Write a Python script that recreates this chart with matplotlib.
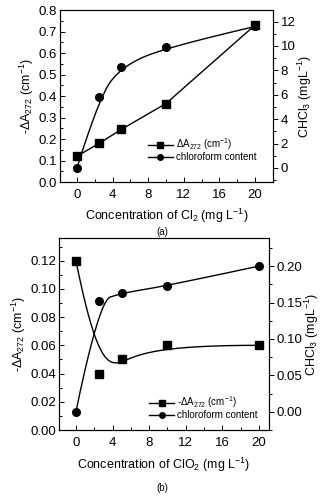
import numpy as np
import matplotlib
matplotlib.use("Agg")
import matplotlib.pyplot as plt
from matplotlib.ticker import MultipleLocator, FormatStrFormatter

plt.rcParams['font.family'] = ['Liberation Sans', 'DejaVu Sans']
plt.rcParams['mathtext.fontset'] = 'custom'
plt.rcParams['mathtext.rm'] = 'Liberation Sans'
plt.rcParams['mathtext.it'] = 'Liberation Sans'

# ---- data (a) ----
conc_a = [0, 2.5, 5, 10, 20]
dA_a = [0.12, 0.18, 0.245, 0.365, 0.73]
chcl3_a = [0.0, 5.8, 8.3, 9.9, 11.6]
# ---- data (b) ----
conc_b = [0, 2.5, 5, 10, 20]
dA_b = [0.12, 0.04, 0.05, 0.06, 0.06]
chcl3_b = [0.0, 0.152, 0.163, 0.173, 0.200]


def bspline(xs, ys, n=300, k=2):
    """Clamped B-spline using data points as control points (Origin style)."""
    P = np.column_stack([xs, ys]).astype(float)
    m = len(P)
    k = min(k, m - 1)
    inner = np.linspace(0, 1, m - k + 1)
    t = np.concatenate([np.zeros(k), inner, np.ones(k)])
    u = np.linspace(0, 1, n)
    out = []
    for uu in u:
        if uu >= 1:
            out.append(P[-1]); continue
        j = np.searchsorted(t, uu, side='right') - 1
        d = [P[j - k + i].copy() for i in range(k + 1)]
        for r in range(1, k + 1):
            for i in range(k, r - 1, -1):
                a = (uu - t[j - k + i]) / (t[j + 1 + i - r] - t[j - k + i])
                d[i] = (1 - a) * d[i - 1] + a * d[i]
        out.append(d[k])
    out = np.array(out)
    return out[:, 0], out[:, 1]


fig = plt.figure(figsize=(3.25, 4.98), dpi=100)
FS_T = 9.5
FS_L = 9

def style(ax, ax2):
    for a in (ax, ax2):
        for s in a.spines.values():
            s.set_linewidth(0.8)
    ax.tick_params(axis='both', which='both', direction='in', labelsize=FS_T, width=0.7)
    ax.tick_params(which='major', length=3.5)
    ax.tick_params(which='minor', length=2)
    ax.tick_params(axis='x', pad=5)
    ax.tick_params(axis='y', pad=2)
    ax2.tick_params(axis='y', which='both', direction='out', labelsize=FS_T, width=0.7, pad=2)
    ax2.tick_params(which='major', length=3.5)
    ax2.tick_params(which='minor', length=2)

# ---------- panel (a) ----------
ax = fig.add_axes([0.1846, 0.6345, 0.655, 0.3454])
ax2 = ax.twinx()
ax.plot(conc_a, dA_a, color='black', lw=1.0)
ax.plot(conc_a, dA_a, 's', color='black', ms=6)
x, y = bspline(conc_a, chcl3_a, k=2)
ax2.plot(x, y, color='black', lw=1.0)
ax2.plot(conc_a, chcl3_a, 'o', color='black', ms=5.5)
ax.set_xlim(-1.9, 22)
ax.set_ylim(0, 0.8)
ax2.set_ylim(-1.15, 12.95)
ax.xaxis.set_major_locator(MultipleLocator(4))
ax.xaxis.set_minor_locator(MultipleLocator(2))
ax.yaxis.set_major_locator(MultipleLocator(0.1))
ax.yaxis.set_minor_locator(MultipleLocator(0.05))
ax2.yaxis.set_major_locator(MultipleLocator(2))
ax2.yaxis.set_minor_locator(MultipleLocator(1))
ax.yaxis.set_major_formatter(FormatStrFormatter('%.1f'))
style(ax, ax2)
ax.set_ylabel(r'-$\Delta$A$_{272}$ (cm$^{-1}$)', fontsize=FS_L, labelpad=2)
ax2.set_ylabel(r'CHCl$_3$ (mgL$^{-1}$)', fontsize=FS_L, labelpad=0)
ax.set_xlabel(r'Concentration of Cl$_2$ (mg L$^{-1}$)', fontsize=FS_L, labelpad=4)
fig.text(0.5, 1 - 232 / 498, '(a)', ha='center', va='center', fontsize=7)
h1 = ax.plot([], [], '-s', color='black', ms=4, lw=1.0)[0]
h2 = ax.plot([], [], '-o', color='black', ms=4, lw=1.0)[0]
ax.legend([h1, h2], [r'$\Delta$A$_{272}$ (cm$^{-1}$)', 'chloroform content'],
          loc='lower right', bbox_to_anchor=(0.95, 0.08), frameon=False,
          fontsize=7, handlelength=2.6, handletextpad=0.3, labelspacing=0.0,
          borderaxespad=0.2)

# ---------- panel (b) ----------
bx = fig.add_axes([0.1815, 0.1365, 0.646, 0.3855])
bx2 = bx.twinx()
x, y = bspline(conc_b, dA_b, k=3)
bx.plot(x, y, color='black', lw=1.0)
bx.plot(conc_b, dA_b, 's', color='black', ms=6)
x, y = bspline(conc_b, chcl3_b, k=2)
bx2.plot(x, y, color='black', lw=1.0)
bx2.plot(conc_b, chcl3_b, 'o', color='black', ms=5.5)
bx.set_xlim(-1.85, 21.1)
bx.set_ylim(0, 0.136)
bx2.set_ylim(-0.025, 0.2385)
bx.xaxis.set_major_locator(MultipleLocator(4))
bx.xaxis.set_minor_locator(MultipleLocator(2))
bx.yaxis.set_major_locator(MultipleLocator(0.02))
bx.yaxis.set_minor_locator(MultipleLocator(0.01))
bx2.yaxis.set_major_locator(MultipleLocator(0.05))
bx2.yaxis.set_minor_locator(MultipleLocator(0.025))
bx.yaxis.set_major_formatter(FormatStrFormatter('%.2f'))
bx2.yaxis.set_major_formatter(FormatStrFormatter('%.2f'))
style(bx, bx2)
bx.set_ylabel(r'-$\Delta$A$_{272}$ (cm$^{-1}$)', fontsize=FS_L, labelpad=2)
bx2.set_ylabel(r'CHCl$_3$ (mgL$^{-1}$)', fontsize=FS_L, labelpad=0)
bx.set_xlabel(r'Concentration of ClO$_2$ (mg L$^{-1}$)', fontsize=FS_L, labelpad=5)
fig.text(0.5, 1 - 488 / 498, '(b)', ha='center', va='center', fontsize=7)
bx.legend([h1, h2], [r'-$\Delta$A$_{272}$ (cm$^{-1}$)', 'chloroform content'],
          loc='lower right', bbox_to_anchor=(0.975, 0.02), frameon=False,
          fontsize=7, handlelength=2.6, handletextpad=0.3, labelspacing=0.0,
          borderaxespad=0.2)

fig.savefig('out.png', dpi=100)
